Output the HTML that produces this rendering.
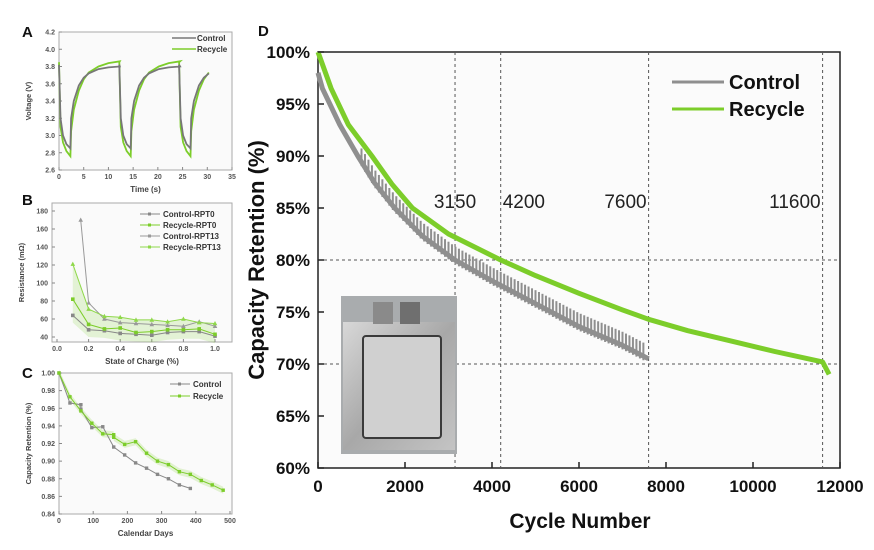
<!DOCTYPE html>
<html><head><meta charset="utf-8"><style>
html,body{margin:0;padding:0;background:#fff;}
svg{display:block;font-family:"Liberation Sans",Arial,sans-serif;}
</style></head><body>
<svg id="fig" width="874" height="550" viewBox="0 0 874 550" xmlns="http://www.w3.org/2000/svg">
<defs><linearGradient id="foil" x1="0" y1="0" x2="1" y2="1"><stop offset="0" stop-color="#d8d8d8"/><stop offset="0.5" stop-color="#a8a8a8"/><stop offset="1" stop-color="#c4c4c4"/></linearGradient></defs>
</svg>
<script>
// ---------- Panel D data ----------
const dControlCycles = [0,100,500,915,1300,1760,2400,3150,4000,5000,6000,7000,7600];
const dControlValues = [98,96.5,93,90,87.4,85,82.3,80,78,75.8,73.6,71.8,70.5];
const dRecycleCycles = [0,300,700,1240,1700,2170,3000,4200,5000,6000,7000,7600,8500,9500,10500,11600,11750];
const dRecycleValues = [100,96.5,93,90,87.3,85,82.5,80,78.5,76.8,75.2,74.3,73.2,72.2,71.2,70.2,69];
const dYTicks = [60,65,70,75,80,85,90,95,100];
const dXTicks = [0,2000,4000,6000,8000,10000,12000];
const dMarkCycles = [3150,4200,7600,11600];
const dMarkLabels = ["3150","4200","7600","11600"];
// ---------- Panel A data ----------
const aPulseTimes = [0,0.3,0.8,1.5,2.3,2.45,3,4,5,6,8,10,12.3];
const aControlV = [3.82,3.2,3.0,2.9,2.85,3.2,3.4,3.58,3.67,3.72,3.77,3.79,3.8];
const aRecycleV = [3.85,3.1,2.92,2.82,2.76,3.05,3.3,3.52,3.65,3.73,3.8,3.84,3.86];
const aCycleStarts = [0,12.2,24.3];
const aXTicks = [0,5,10,15,20,25,30,35];
const aYTicks = [2.6,2.8,3.0,3.2,3.4,3.6,3.8,4.0,4.2];
// ---------- Panel B data ----------
const bSoc = [0.1,0.2,0.3,0.4,0.5,0.6,0.7,0.8,0.9,1.0];
const bControl0 = [64,48,47,44,43,42,45,46,46,41];
const bRecycle0 = [82,54,49,50,45,46,48,48,49,43];
const bSoc13 = [0.15,0.2,0.3,0.4,0.5,0.6,0.7,0.8,0.9,1.0];
const bControl13 = [170,78,60,56,55,54,53,52,57,52];
const bRecycle13 = [121,71,63,62,59,59,57,60,56,55];
const bXTicks = [0,0.2,0.4,0.6,0.8,1.0];
const bYTicks = [40,60,80,100,120,140,160,180];
// ---------- Panel C data ----------
const cControlDays = [0,32,64,64,96,128,160,192,224,256,288,320,352,384];
const cControlVals = [1.0,0.966,0.964,0.959,0.938,0.939,0.916,0.907,0.898,0.892,0.885,0.880,0.873,0.869];
const cRecycleDays = [0,32,64,96,128,160,160,192,224,256,288,320,352,384,416,448,480];
const cRecycleVals = [1.0,0.973,0.957,0.943,0.931,0.930,0.927,0.919,0.922,0.909,0.900,0.896,0.888,0.885,0.878,0.873,0.867];
const cXTicks = [0,100,200,300,400,500];
const cYTicks = [0.84,0.86,0.88,0.90,0.92,0.94,0.96,0.98,1.00];

const NS="http://www.w3.org/2000/svg";
const svg=document.getElementById('fig');
function mk(tag,attrs,parent){const e=document.createElementNS(NS,tag);for(const k in attrs)e.setAttribute(k,attrs[k]);(parent||svg).appendChild(e);return e;}
function txt(s,attrs,parent){const e=mk('text',attrs,parent);e.textContent=s;return e;}
function lin(d0,d1,r0,r1){return v=>r0+(v-d0)/(d1-d0)*(r1-r0);}
function pts(xs,ys,X,Y){return xs.map((x,i)=>X(x).toFixed(1)+','+Y(ys[i]).toFixed(1)).join(' ');}
function interp(xs,ys,x){for(let i=1;i<xs.length;i++){if(x<=xs[i]){const t=(x-xs[i-1])/(xs[i]-xs[i-1]);return ys[i-1]+t*(ys[i]-ys[i-1]);}}return ys[ys.length-1];}

// ===== Panel D =====
{
const g=mk('g',{},svg);

const X=lin(0,12000,318,840), Y=lin(60,100,468,52);
mk('rect',{x:318,y:52,width:522,height:416,fill:'#fbfbfb',stroke:'#222','stroke-width':1.5},g);
dMarkCycles.forEach((c,i)=>{
  const l=mk('line',{x1:X(c),x2:X(c),y1:52,y2:468,stroke:'#555','stroke-width':1,'stroke-dasharray':'3,3'},g);
  
});
[80,70].forEach(v=>{
  const l=mk('line',{x1:318,x2:840,y1:Y(v),y2:Y(v),stroke:'#555','stroke-width':1,'stroke-dasharray':'3,3'},g);
  
});
// photo inset
const ph=mk('g',{},g);
mk('rect',{x:341,y:296,width:116,height:158,fill:'#a9acae'},ph);
mk('rect',{x:343,y:322,width:112,height:128,fill:'url(#foil)'},ph);
mk('rect',{x:363,y:336,width:78,height:102,fill:'#d0d0d0',stroke:'#3a3a3a','stroke-width':2,rx:3},ph);
mk('rect',{x:373,y:302,width:20,height:22,fill:'#8a8a8a'},ph);
mk('rect',{x:400,y:302,width:20,height:22,fill:'#6f6f6f'},ph);
// control spikes (sawtooth)
for(let c=1000;c<=7550;c+=80){
  const v=interp(dControlCycles,dControlValues,c);
  const s=mk('line',{x1:X(c),x2:X(c),y1:Y(v-0.4),y2:Y(v+1.3),stroke:'#8f8f8f','stroke-width':2},g);
  
}
const cpl=mk('polyline',{points:pts(dControlCycles,dControlValues,X,Y),fill:'none',stroke:'#8f8f8f','stroke-width':5,'stroke-linejoin':'round'},g);

const rpl=mk('polyline',{points:pts(dRecycleCycles,dRecycleValues,X,Y),fill:'none',stroke:'#7ccd2a','stroke-width':5,'stroke-linejoin':'round'},g);

dYTicks.forEach(v=>{
  mk('line',{x1:318,x2:324,y1:Y(v),y2:Y(v),stroke:'#222','stroke-width':1.5},g);
  const t=txt(v+'%',{x:310,y:Y(v)+6,'text-anchor':'end','font-size':17,'font-weight':'bold',fill:'#111'},g);
  
});
dXTicks.forEach(v=>{
  mk('line',{x1:X(v),x2:X(v),y1:468,y2:462,stroke:'#222','stroke-width':1.5},g);
  const t=txt(v,{x:X(v),y:492,'text-anchor':'middle','font-size':17,'font-weight':'bold',fill:'#111'},g);
  
});
dMarkCycles.forEach((c,i)=>{
  let attrs={x:X(c)-2,y:208,'text-anchor':'end','font-size':19,fill:'#222'};
  if(i===0){attrs.x=X(c);attrs['text-anchor']='middle';}
  if(i===1){attrs.x=X(c)+2;attrs['text-anchor']='start';}
  const t=txt(dMarkLabels[i],attrs,g);
  
});
const xt=txt('Cycle Number',{x:580,y:528,'text-anchor':'middle','font-size':21,'font-weight':'bold',fill:'#111'},g);

const yt=txt('Capacity Retention (%)',{x:0,y:0,'text-anchor':'middle','font-size':22,'font-weight':'bold',fill:'#111',transform:'translate(264,260) rotate(-90)'},g);

const lg=mk('g',{},g);
mk('line',{x1:672,x2:724,y1:82,y2:82,stroke:'#8f8f8f','stroke-width':3},lg);
txt('Control',{x:729,y:89,'font-size':20,'font-weight':'bold',fill:'#111'},lg);
mk('line',{x1:672,x2:724,y1:109,y2:109,stroke:'#7ccd2a','stroke-width':3},lg);
txt('Recycle',{x:729,y:116,'font-size':20,'font-weight':'bold',fill:'#111'},lg);
}

function axes(g,x0,x1,y0,y1,X,Y,xt,yt,xfmt,yfmt,xlab,ylab){
  mk('rect',{x:x0,y:y0,width:x1-x0,height:y1-y0,fill:'#fafafa',stroke:'#aaa','stroke-width':1},g);
  xt.forEach(v=>{mk('line',{x1:X(v),x2:X(v),y1:y1,y2:y1-3,stroke:'#888'},g);
    const t=txt(xfmt(v),{x:X(v),y:y1+9,'text-anchor':'middle','font-size':7,'font-weight':'bold',fill:'#555'},g);
    });
  yt.forEach(v=>{mk('line',{x1:x0,x2:x0+3,y1:Y(v),y2:Y(v),stroke:'#888'},g);
    const t=txt(yfmt(v),{x:x0-4,y:Y(v)+2.5,'text-anchor':'end','font-size':7,'font-weight':'bold',fill:'#555'},g);
    });
  const a=txt(xlab,{x:(x0+x1)/2,y:y1+22,'text-anchor':'middle','font-size':8,'font-weight':'bold',fill:'#444'},g);
  
  const b=txt(ylab,{x:0,y:0,'text-anchor':'middle','font-size':7.5,'font-weight':'bold',fill:'#444',transform:'translate('+(x0-28)+','+((y0+y1)/2)+') rotate(-90)'},g);
  
}
function letter(s,x,y){const t=txt(s,{x:x,y:y,'font-size':15,'font-weight':'bold',fill:'#111'});}
letter('A',22,37);letter('B',22,205);letter('C',22,378);letter('D',258,36);

// ===== Panel A =====
{
const g=mk('g',{});
const X=lin(0,35,59,232),Y=lin(2.6,4.2,170,32);
axes(g,59,232,32,170,X,Y,aXTicks,aYTicks,v=>v,v=>v.toFixed(1),'Time (s)','Voltage (V)');
function series(vals,color,name){
  let xs=[],ys=[];
  aCycleStarts.forEach(s=>{aPulseTimes.forEach((t,i)=>{const tt=s+t;if(tt<=31.2){xs.push(tt);ys.push(vals[i]);}});});
  const p=mk('polyline',{points:pts(xs,ys,X,Y),fill:'none',stroke:color,'stroke-width':1.8},g);
  
}
series(aRecycleV,'#7ccd2a','recycle-voltage-line');
series(aControlV,'#777','control-voltage-line');
mk('line',{x1:172,x2:196,y1:38,y2:38,stroke:'#777','stroke-width':1.5},g);
txt('Control',{x:197,y:41,'font-size':8,'font-weight':'bold',fill:'#333'},g);
mk('line',{x1:172,x2:196,y1:49,y2:49,stroke:'#7ccd2a','stroke-width':1.5},g);
txt('Recycle',{x:197,y:52,'font-size':8,'font-weight':'bold',fill:'#333'},g);
}

// ===== Panel B =====
{
const g=mk('g',{});
const X=lin(0,1,57,215),Y=lin(40,180,337,211);
axes(g,52,232,203,342,X,Y,bXTicks,bYTicks,v=>v.toFixed(1),v=>v,'State of Charge (%)','Resistance (mΩ)');
const band=mk('polygon',{points:pts(bSoc,bRecycle13,X,Y)+' '+pts(bSoc.slice().reverse(),bControl0.map(v=>v-8).reverse(),X,Y),fill:'#7ccd2a','fill-opacity':0.18,stroke:'none'},g);

function s(xs,ys,col,name,tri){
  const p=mk('polyline',{points:pts(xs,ys,X,Y),fill:'none',stroke:col,'stroke-width':1},g);
  
  xs.forEach((x,i)=>{const cx=X(x),cy=Y(ys[i]);
    const m=tri?mk('polygon',{points:`${cx},${cy-2.5} ${cx-2.3},${cy+1.8} ${cx+2.3},${cy+1.8}`,fill:col},g):mk('rect',{x:cx-1.8,y:cy-1.8,width:3.6,height:3.6,fill:col},g);
    });
}
s(bSoc,bControl0,'#888','control-rpt0-line',false);
s(bSoc,bRecycle0,'#7ccd2a','recycle-rpt0-line',false);
s(bSoc13,bControl13,'#999','control-rpt13-line',true);
s(bSoc,bRecycle13,'#8fd84a','recycle-rpt13-line',true);
const L=[['Control-RPT0','#888'],['Recycle-RPT0','#7ccd2a'],['Control-RPT13','#999'],['Recycle-RPT13','#8fd84a']];
L.forEach((l,i)=>{const y=214+i*11;mk('line',{x1:140,x2:160,y1:y,y2:y,stroke:l[1]},g);
  mk('rect',{x:148,y:y-1.5,width:3,height:3,fill:l[1]},g);
  txt(l[0],{x:163,y:y+3,'font-size':8,'font-weight':'bold',fill:'#333'},g);});
}

// ===== Panel C =====
{
const g=mk('g',{});
const X=lin(0,500,59,230),Y=lin(0.84,1.0,514,373);
axes(g,59,232,373,514,X,Y,cXTicks,cYTicks,v=>v,v=>v.toFixed(2),'Calendar Days','Capacity Retention (%)');
const band=mk('polygon',{points:pts(cRecycleDays,cRecycleVals.map(v=>v+0.004),X,Y)+' '+pts(cRecycleDays.slice().reverse(),cRecycleVals.map(v=>v-0.004).reverse(),X,Y),fill:'#7ccd2a','fill-opacity':0.2},g);

function s(xs,ys,col,name){
  const p=mk('polyline',{points:pts(xs,ys,X,Y),fill:'none',stroke:col,'stroke-width':1},g);
  
  xs.forEach((x,i)=>{const m=mk('rect',{x:X(x)-1.7,y:Y(ys[i])-1.7,width:3.4,height:3.4,fill:col},g);
    });
}
s(cControlDays,cControlVals,'#888','control-retention-line');
s(cRecycleDays,cRecycleVals,'#7ccd2a','recycle-retention-line');
mk('line',{x1:170,x2:190,y1:384,y2:384,stroke:'#888'},g);mk('rect',{x:178,y:382.5,width:3,height:3,fill:'#888'},g);
txt('Control',{x:193,y:387,'font-size':8,'font-weight':'bold',fill:'#333'},g);
mk('line',{x1:170,x2:190,y1:396,y2:396,stroke:'#7ccd2a'},g);mk('rect',{x:178,y:394.5,width:3,height:3,fill:'#7ccd2a'},g);
txt('Recycle',{x:193,y:399,'font-size':8,'font-weight':'bold',fill:'#333'},g);
}
</script>
</body></html>
